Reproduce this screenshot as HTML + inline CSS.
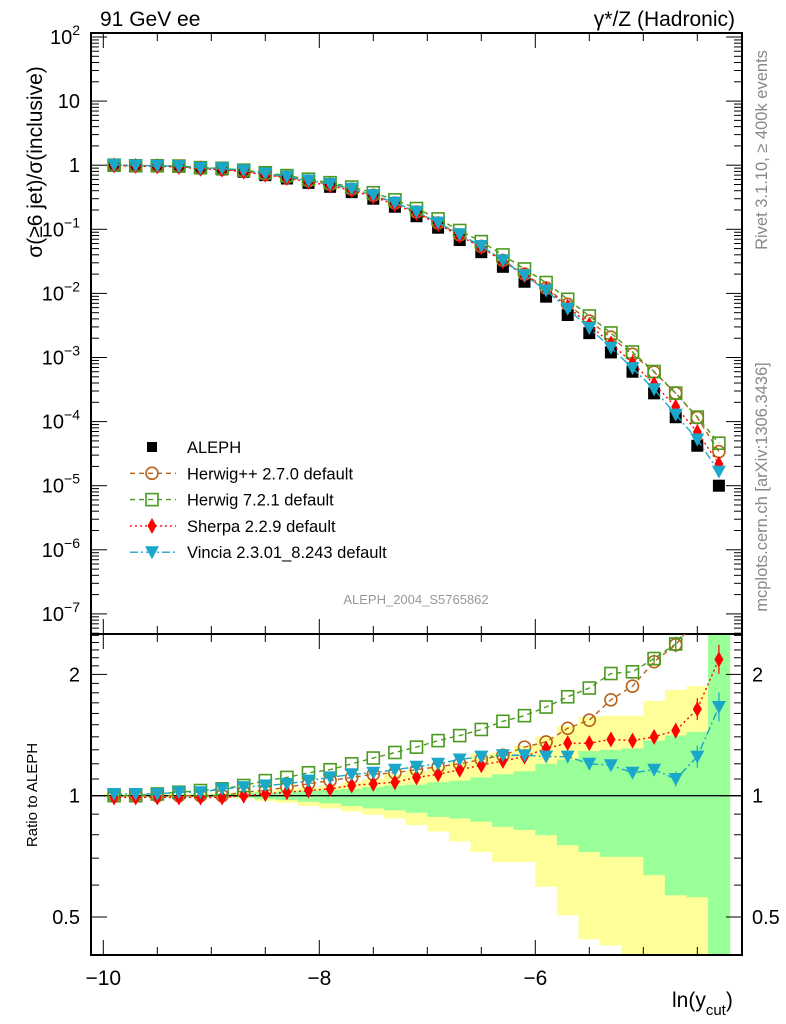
<!DOCTYPE html>
<html><head><meta charset="utf-8"><style>
body{margin:0;background:#fff;width:786px;height:1024px;overflow:hidden}
svg{display:block;font-family:"Liberation Sans",sans-serif}
</style></head><body>
<svg id="chart" width="786" height="1024" xmlns="http://www.w3.org/2000/svg">
<text x="100" y="26" font-size="21">91 GeV ee</text>
<text x="735" y="26" font-size="21" text-anchor="end">γ*/Z (Hadronic)</text>
<text transform="translate(42,162) rotate(-90)" font-size="21" text-anchor="middle">σ(≥6 jet)/σ(inclusive)</text>
<text transform="translate(37,795) rotate(-90)" font-size="15" text-anchor="middle">Ratio to ALEPH</text>
<text transform="translate(767,150) rotate(-90)" font-size="16.5" fill="#888" text-anchor="middle">Rivet 3.1.10, ≥ 400k events</text>
<text transform="translate(767,487) rotate(-90)" font-size="16.5" fill="#888" text-anchor="middle">mcplots.cern.ch [arXiv:1306.3436]</text>
<text x="416" y="604" font-size="13" fill="#999" text-anchor="middle">ALEPH_2004_S5765862</text>
<text x="672" y="1007" font-size="21">ln(y<tspan font-size="15" dy="8">cut</tspan><tspan dy="-8">)</tspan></text>
<g id="g"></g>
</svg>
<script>
const xs=[-9.9,-9.7,-9.5,-9.3,-9.1,-8.9,-8.7,-8.5,-8.3,-8.1,-7.9,-7.7,-7.5,-7.3,-7.1,-6.9,-6.7,-6.5,-6.3,-6.1,-5.9,-5.7,-5.5,-5.3,-5.1,-4.9,-4.7,-4.5,-4.3];
const aleph=[1.0,0.98,0.97,0.95,0.89,0.86,0.79,0.70,0.62,0.53,0.46,0.38,0.30,0.225,0.16,0.106,0.068,0.044,0.026,0.0152,0.0089,0.0046,0.0024,0.0012,0.0006,0.000276,0.000117,0.000042,0.00001];
const herwigPP=[1,1,1,1,1,1,1.02,1.03,1.05,1.07,1.09,1.11,1.13,1.14,1.16,1.18,1.2,1.23,1.26,1.32,1.36,1.47,1.54,1.73,1.87,2.15,2.37,2.75,3.4];
const herwig7=[1,1,1.01,1.02,1.03,1.04,1.06,1.09,1.11,1.14,1.16,1.2,1.24,1.28,1.32,1.37,1.41,1.46,1.53,1.58,1.66,1.76,1.85,2.01,2.03,2.19,2.38,2.8,4.6];
const sherpa=[0.99,0.99,0.99,0.99,0.99,0.99,1.0,1.01,1.02,1.03,1.04,1.06,1.07,1.08,1.11,1.13,1.16,1.19,1.22,1.25,1.31,1.35,1.35,1.38,1.37,1.40,1.45,1.64,2.18];
const vincia=[1.01,1.01,1.01,1.02,1.02,1.04,1.05,1.06,1.07,1.09,1.11,1.13,1.14,1.16,1.18,1.2,1.23,1.25,1.26,1.26,1.25,1.25,1.2,1.19,1.14,1.16,1.1,1.25,1.66];
const greenLo=[0.995,0.995,0.995,0.995,0.995,0.993,0.99,0.98,0.975,0.966,0.957,0.943,0.93,0.92,0.907,0.886,0.878,0.862,0.837,0.822,0.798,0.754,0.725,0.705,0.705,0.635,0.566,0.56,0.3];
const greenHi=[1.005,1.005,1.005,1.005,1.007,1.01,1.015,1.02,1.025,1.03,1.035,1.04,1.05,1.06,1.065,1.08,1.09,1.11,1.13,1.15,1.2,1.23,1.29,1.30,1.31,1.37,1.41,1.44,3.0];
const yelLo=[0.99,0.99,0.99,0.99,0.99,0.988,0.985,0.97,0.96,0.943,0.93,0.914,0.897,0.878,0.845,0.815,0.77,0.725,0.685,0.685,0.594,0.505,0.44,0.425,0.40,0.3,0.3,0.3,0.3];
const yelHi=[1.01,1.01,1.01,1.01,1.012,1.015,1.02,1.03,1.04,1.05,1.06,1.08,1.1,1.13,1.15,1.18,1.21,1.27,1.28,1.33,1.40,1.49,1.57,1.58,1.58,1.72,1.83,1.87,3.0];
const mainTicks=[2,1,0,-1,-2,-3,-4,-5,-6,-7];
const xTicks=[-10,-8,-6];

const L=91,R=742,T=33,M=634,B=955;
const X=v=>103.3+(v+10)*108;
const Y=v=>165.2-64.1*Math.log10(v);
const RY=v=>Math.max(M,Math.min(B,795.7-121.3*Math.log2(v)));
const NS='http://www.w3.org/2000/svg';
const g=document.getElementById('g');
function el(t,a,p){const e=document.createElementNS(NS,t);for(const k in a)e.setAttribute(k,a[k]);(p||g).appendChild(e);return e;}
const hw=10.8;
xs.forEach((x,i)=>{
  let r=el('rect',{x:X(x)-hw,y:RY(yelHi[i]),width:2*hw+0.5,height:RY(yelLo[i])-RY(yelHi[i]),fill:'#ffff99'});
  
  
  let q=el('rect',{x:X(x)-hw,y:RY(greenHi[i]),width:2*hw+0.5,height:RY(greenLo[i])-RY(greenHi[i]),fill:'#99ff99'});
  
  
});
el('line',{x1:L,x2:R,y1:RY(1),y2:RY(1),stroke:'#000','stroke-width':1.3});
el('rect',{x:L,y:T,width:R-L,height:M-T,fill:'none',stroke:'#000','stroke-width':2});
el('rect',{x:L,y:M,width:R-L,height:B-M,fill:'none',stroke:'#000','stroke-width':2});
for(let v=-10;v<=-4.2;v+=0.5){const big=xTicks.includes(Math.round(v*10)/10);const len=big?15:8;
 [[T,1],[M,-1],[M,1],[B,-1]].forEach(([y0,d])=>el('line',{x1:X(v),x2:X(v),y1:y0,y2:y0+d*len,stroke:'#000','stroke-width':1}));}
xTicks.forEach(v=>{let t=el('text',{x:X(v),y:985,'font-size':21,'text-anchor':'middle'});t.textContent='\u2212'+(-v);
 });
for(let e=-8;e<=2;e++){for(let m=1;m<10;m++){const v=m*Math.pow(10,e);const y=Y(v);if(y<T||y>M)continue;const len=m==1?16:8;
 el('line',{x1:L,x2:L+len,y1:y,y2:y,stroke:'#000'});el('line',{x1:R,x2:R-len,y1:y,y2:y,stroke:'#000'});}}
mainTicks.forEach(e=>{const y=Y(Math.pow(10,e))+7;let t;
 if(e==0||e==1){t=el('text',{x:80,y:y,'font-size':20,'text-anchor':'end'});t.textContent=e==0?'1':'10';}
 else{t=el('text',{x:80,y:y,'font-size':20,'text-anchor':'end'});t.innerHTML='10<tspan font-size="14" dy="-9">'+(e<0?'\u2212'+(-e):e)+'</tspan>';}
 });
[0.4,0.5,0.6,0.7,0.8,0.9,1,1.1,1.2,1.3,1.4,1.5,1.6,1.7,1.8,1.9,2,2.1,2.2,2.3,2.4,2.5].forEach(v=>{const y=RY(v);if(y<=M||y>=B)return;const len=[0.5,1,2].includes(v)?16:8;
 el('line',{x1:L,x2:L+len,y1:y,y2:y,stroke:'#000'});el('line',{x1:R,x2:R-len,y1:y,y2:y,stroke:'#000'});});
[[2,'2'],[1,'1'],[0.5,'0.5']].forEach(([v,s])=>{[[80,'end'],[752,'start']].forEach(([x,a])=>{let t=el('text',{x:x,y:RY(v)+7,'font-size':20,'text-anchor':a});t.textContent=s;
 });});
const series=[
 {name:'herwigpp',r:herwigPP,c:'#b8621b',dash:'5,4',m:'circle'},
 {name:'herwig7',r:herwig7,c:'#4a9a1f',dash:'5,4',m:'square'},
 {name:'sherpa',r:sherpa,c:'#ff0000',dash:'2,3',m:'diamond'},
 {name:'vincia',r:vincia,c:'#1aa7c9',dash:'8,3,2,3',m:'tri'}];
function marker(m,x,y,c,p){
 if(m=='circle')return el('circle',{cx:x,cy:y,r:6,fill:'none',stroke:c,'stroke-width':1.6},p);
 if(m=='square')return el('rect',{x:x-6,y:y-6,width:12,height:12,fill:'none',stroke:c,'stroke-width':1.6},p);
 if(m=='diamond')return el('path',{d:`M${x},${y-8}L${x+4.5},${y}L${x},${y+8}L${x-4.5},${y}Z`,fill:c},p);
 if(m=='tri')return el('path',{d:`M${x-7},${y-6}L${x+7},${y-6}L${x},${y+7}Z`,fill:c},p);
 return el('rect',{x:x-6,y:y-6,width:12,height:12,fill:'#000'},p);}
const clipM=el('clipPath',{id:'cm'});el('rect',{x:L,y:T,width:R-L,height:M-T},clipM);
const clipR=el('clipPath',{id:'cr'});el('rect',{x:L,y:M,width:R-L,height:B-M},clipR);
const gm=el('g',{'clip-path':'url(#cm)'});const gr=el('g',{'clip-path':'url(#cr)'});
xs.forEach((x,i)=>{let d=marker('data',X(x),Y(aleph[i]),'#000',gm);});
series.forEach(s=>{
 const pm=xs.map((x,i)=>X(x)+','+Y(aleph[i]*s.r[i])).join(' ');
 el('polyline',{points:pm,fill:'none',stroke:s.c,'stroke-width':1.4,'stroke-dasharray':s.dash},gm);
 const pr=xs.map((x,i)=>X(x)+','+(795.7-121.3*Math.log2(s.r[i]))).join(' ');
 el('polyline',{points:pr,fill:'none',stroke:s.c,'stroke-width':1.4,'stroke-dasharray':s.dash},gr);
 xs.forEach((x,i)=>{let a=marker(s.m,X(x),Y(aleph[i]*s.r[i]),s.c,gm);
  
  const ry=795.7-121.3*Math.log2(s.r[i]);
  if(i>=25){const e=4+(i-25)*3.5;el('line',{x1:X(x),x2:X(x),y1:ry-e,y2:ry+e,stroke:s.c,'stroke-width':1.2},gr);}
  let b=marker(s.m,X(x),ry,s.c,gr);
  });
});
const leg=[['ALEPH','data','#000',null],['Herwig++ 2.7.0 default','circle','#b8621b','5,4'],['Herwig 7.2.1 default','square','#4a9a1f','5,4'],['Sherpa 2.2.9 default','diamond','#ff0000','2,3'],['Vincia 2.3.01_8.243 default','tri','#1aa7c9','8,3,2,3']];
leg.forEach((l,i)=>{const y=447+i*26.3;const lg=el('g',{});
 
 if(l[3])el('line',{x1:130,x2:176,y1:y,y2:y,stroke:l[2],'stroke-width':1.4,'stroke-dasharray':l[3]},lg);
 if(l[1]=='data')el('rect',{x:147,y:y-5,width:10,height:10,fill:'#000'},lg);else marker(l[1],152,y,l[2],lg);
 const t=el('text',{x:187,y:y+6,'font-size':16.5},lg);t.textContent=l[0];});
</script>
</body></html>
